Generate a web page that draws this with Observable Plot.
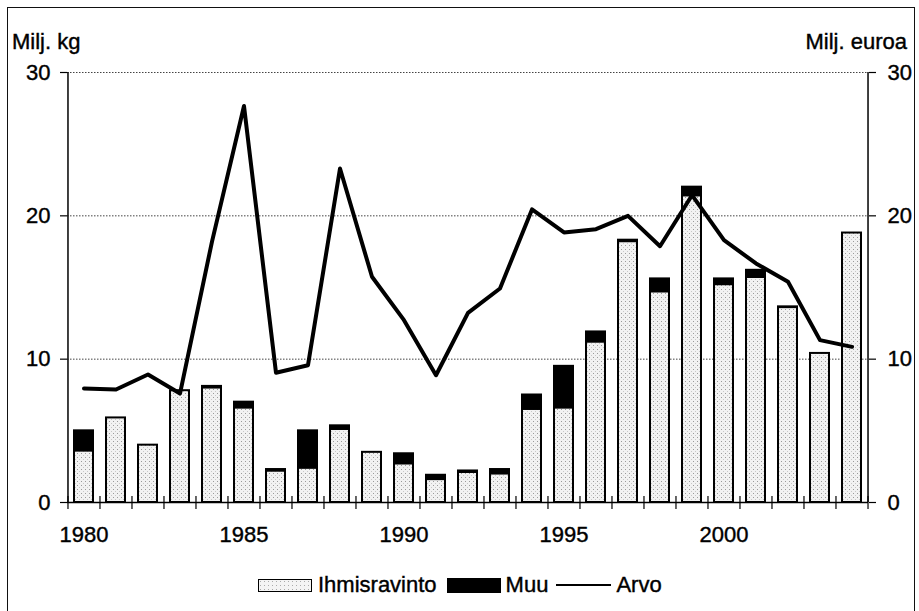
<!DOCTYPE html>
<html><head><meta charset="utf-8">
<script src="https://cdn.jsdelivr.net/npm/d3@7"></script>
<script src="https://cdn.jsdelivr.net/npm/@observablehq/plot@0.6"></script>
<style>
body{margin:0;background:#fff;overflow:hidden;font-family:"Liberation Sans",Arial,sans-serif;color:#000;}
#wrap{position:relative;width:919px;height:611px;overflow:hidden;}
#frame{position:absolute;left:7px;top:7px;width:908px;height:650px;border:1.5px solid #111;box-sizing:border-box;pointer-events:none;}
.ttl{position:absolute;font-size:22px;line-height:22px;top:31px;white-space:nowrap;-webkit-text-stroke:0.4px #000;}
#legend{position:absolute;left:258px;top:574px;display:flex;align-items:center;font-size:22px;line-height:22px;white-space:nowrap;-webkit-text-stroke:0.4px #000;}
.sw{display:inline-block;width:54px;height:13px;box-sizing:border-box;border:1.5px solid #000;}
.ln{display:inline-block;width:55px;height:0;border-top:2px solid #000;}
svg text{stroke:#000;stroke-width:0.4px;}
</style></head>
<body>
<div id="wrap">
  <div id="chart"></div>
  <div class="ttl" style="left:12px">Milj. kg</div>
  <div class="ttl" style="right:12px">Milj. euroa</div>
  <div id="legend">
    <span class="sw" style="background:#eee url('data:image/svg+xml;utf8,<svg xmlns=%22http://www.w3.org/2000/svg%22 width=%224%22 height=%224%22><rect width=%224%22 height=%224%22 fill=%22%23f4f4f4%22/><rect x=%221%22 y=%221%22 width=%221%22 height=%221%22 fill=%22%23aaa%22/></svg>')"></span>
    <span style="margin-left:6px">Ihmisravinto</span>
    <span class="sw" style="background:#000;margin-left:10px;height:15px"></span>
    <span style="margin-left:5px">Muu</span>
    <span class="ln" style="margin-left:8px"></span>
    <span style="margin-left:5px">Arvo</span>
  </div>
  <div id="frame"></div>
</div>
<script>
const years = [1980,1981,1982,1983,1984,1985,1986,1987,1988,1989,1990,1991,1992,1993,1994,1995,1996,1997,1998,1999,2000,2001,2002,2003,2004];
const ihmisravinto = [3.6,5.9,4.0,7.8,8.0,6.6,2.2,2.4,5.1,3.5,2.7,1.6,2.1,2.0,6.5,6.6,11.2,18.2,14.7,21.4,15.2,15.7,13.6,10.4,18.8];
const muu = [1.4,0,0,0,0.1,0.4,0.1,2.6,0.25,0,0.7,0.3,0.1,0.3,1.0,2.9,0.7,0.1,0.9,0.6,0.4,0.5,0.05,0,0];
const arvo = [7.95,7.88,8.93,7.6,18.2,27.66,9.05,9.58,23.3,15.75,12.72,8.88,13.23,14.93,20.45,18.84,19.07,20.0,17.88,21.44,18.3,16.68,15.4,11.33,10.86];
const yTicks = [0,10,20,30];
const xLabels = [1980,1985,1990,1995,2000];

const table = years.map((year,i)=>({year, ih: ihmisravinto[i], muu: muu[i], tot: ihmisravinto[i]+muu[i], arvo: arvo[i]}));

const W = 919, H = 611, mL = 67, mR = 51, mT = 72, mB = 109;
const step = (W - mL - mR) / years.length;

const chart = Plot.plot({
  width: W, height: H,
  marginLeft: mL, marginRight: mR, marginTop: mT, marginBottom: mB,
  style: {fontFamily: '"Liberation Sans", Arial, sans-serif', fontSize: "22px", color: "#000", background: "transparent"},
  x: {type: "band", domain: years, paddingInner: 0.4, paddingOuter: 0.2},
  y: {domain: [0, 30]},
  marks: [
    Plot.ruleY(yTicks.filter(d => d > 0), {stroke: "#444", strokeWidth: 1, strokeDasharray: "1.5,1.5"}),
    Plot.barY(table, {x: "year", y1: 0, y2: "ih", fill: "url(#stipple)", stroke: "#000", strokeWidth: 2}),
    Plot.barY(table.filter(d => d.muu > 0), {x: "year", y1: "ih", y2: "tot", fill: "#000", stroke: "#000", strokeWidth: 2}),
    Plot.lineY(table, {x: "year", y: "arvo", stroke: "#000", strokeWidth: 4, strokeLinejoin: "round"}),
    Plot.ruleY([0], {stroke: "#000", strokeWidth: 1.5}),
    Plot.ruleX([years[0]], {x: d => d, dx: -step/2, stroke: "#000", strokeWidth: 1.5}),
    Plot.ruleX([years[years.length-1]], {x: d => d, dx: step/2, stroke: "#000", strokeWidth: 1.5}),
    Plot.tickX(years, {x: d => d, dx: -step/2, stroke: "#000", strokeWidth: 1.2, insetTop: H - mT - mB - 6, insetBottom: -7}),
    Plot.tickX([years[years.length-1]], {x: d => d, dx: step/2, stroke: "#000", strokeWidth: 1.2, insetTop: H - mT - mB - 6, insetBottom: -7}),
    Plot.axisY({anchor: "left", ticks: yTicks, tickSize: 7, tickPadding: 10, label: null, fontSize: 22, strokeWidth: 1.2}),
    Plot.axisY({anchor: "right", ticks: yTicks, tickSize: 7, tickPadding: 12, label: null, fontSize: 22, strokeWidth: 1.2}),
    Plot.axisX({ticks: xLabels, tickSize: 0, tickPadding: 24, label: null, fontSize: 22, tickFormat: d => String(d)})
  ]
});
chart.insertAdjacentHTML("afterbegin",
  '<defs><pattern id="stipple" width="4" height="4" patternUnits="userSpaceOnUse">' +
  '<rect width="4" height="4" fill="#f2f2f2"/><rect x="1" y="1" width="1" height="1" fill="#9a9a9a"/>' +
  '<rect x="3" y="3" width="1" height="1" fill="#c8c8c8"/></pattern></defs>');
document.getElementById("chart").appendChild(chart);
</script>
</body></html>
